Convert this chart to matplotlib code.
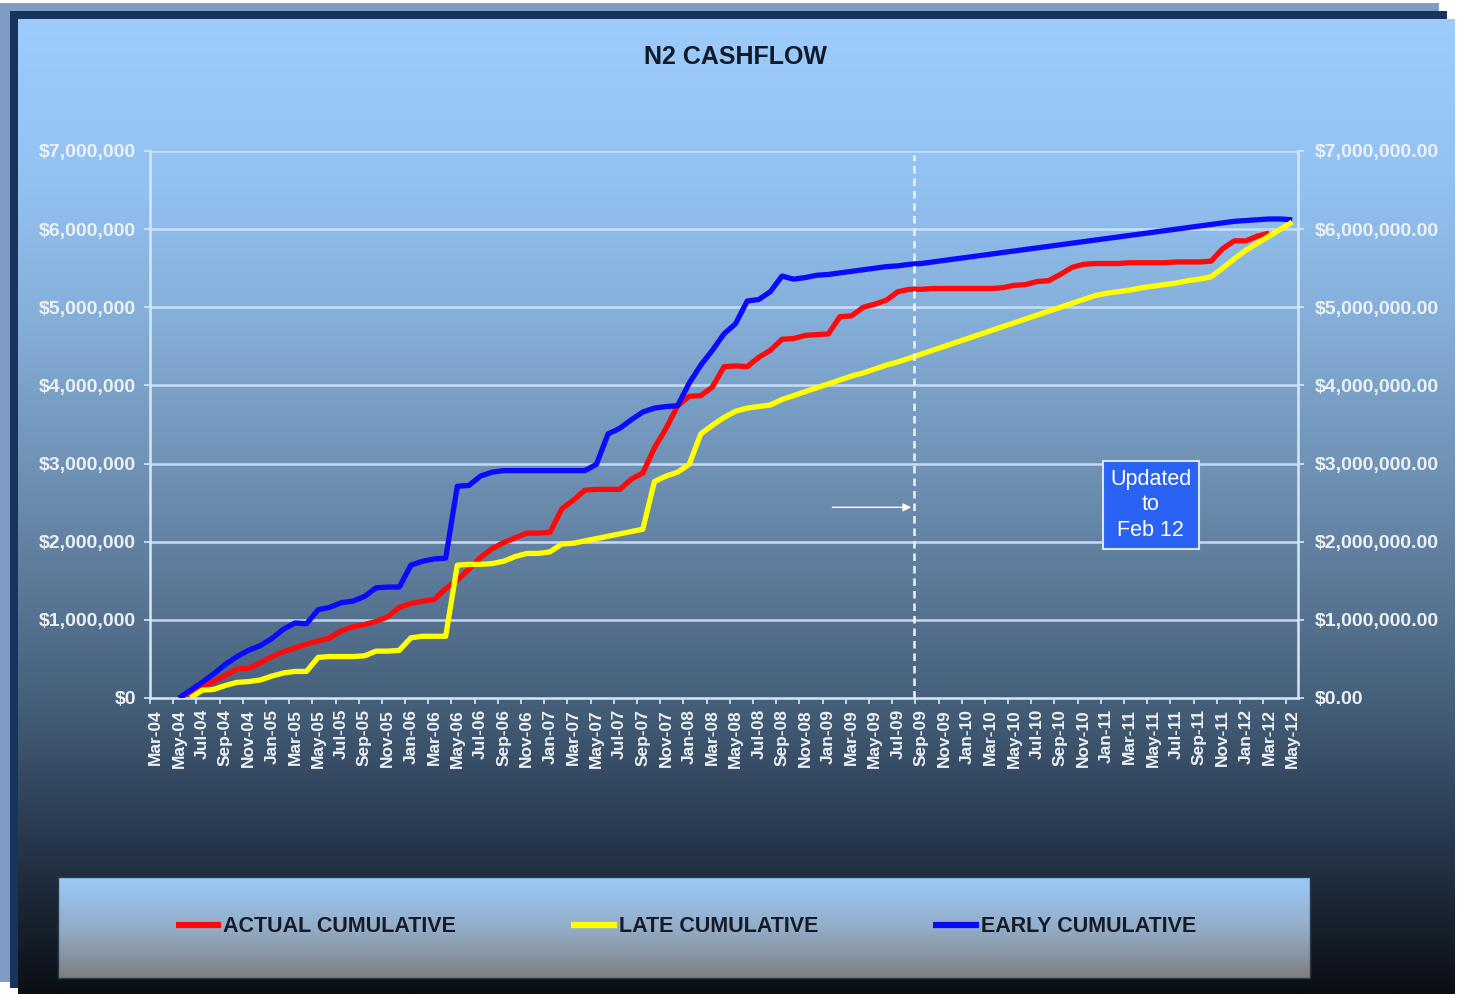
import numpy as np
import pandas as pd
import matplotlib
matplotlib.use("Agg")
import matplotlib.pyplot as plt
from matplotlib.colors import LinearSegmentedColormap
from matplotlib.patches import Rectangle
from matplotlib.lines import Line2D
from matplotlib.ticker import FuncFormatter, FixedLocator

plt.rcParams['font.family'] = ['Liberation Sans', 'DejaVu Sans']

# ---------------- data ----------------
months = list(pd.date_range('2004-03-01', periods=99, freq='MS').strftime('%b-%y'))
nan = np.nan

# values in $ millions, one per month (Mar-04 .. May-12)
actual_cum = [nan, nan, 0.00, 0.08, 0.14, 0.21, 0.29, 0.37, 0.38, 0.45,
              0.53, 0.59, 0.64, 0.69, 0.73, 0.77, 0.86, 0.91, 0.94, 0.98,
              1.04, 1.16, 1.21, 1.24, 1.26, 1.40, 1.51, 1.65, 1.80, 1.91,
              1.99, 2.05, 2.11, 2.11, 2.12, 2.42, 2.53, 2.66, 2.67, 2.67,
              2.67, 2.80, 2.88, 3.20, 3.45, 3.74, 3.86, 3.87, 3.98, 4.24,
              4.25, 4.24, 4.36, 4.45, 4.59, 4.60, 4.64, 4.65, 4.66, 4.88,
              4.89, 5.00, 5.04, 5.09, 5.20, 5.23, 5.23, 5.24, 5.24, 5.24,
              5.24, 5.24, 5.24, 5.25, 5.28, 5.29, 5.33, 5.34, 5.42, 5.51,
              5.55, 5.56, 5.56, 5.56, 5.57, 5.57, 5.57, 5.57, 5.58, 5.58,
              5.58, 5.59, 5.75, 5.85, 5.85, 5.91, 5.95, nan, nan]

late_cum = [nan, nan, nan, 0.00, 0.10, 0.11, 0.16, 0.20, 0.21, 0.23,
            0.28, 0.32, 0.34, 0.34, 0.52, 0.53, 0.53, 0.53, 0.54, 0.60,
            0.60, 0.61, 0.77, 0.79, 0.79, 0.79, 1.70, 1.71, 1.71, 1.72,
            1.75, 1.81, 1.85, 1.85, 1.87, 1.97, 1.98, 2.01, 2.04, 2.07,
            2.10, 2.13, 2.16, 2.77, 2.84, 2.89, 2.99, 3.38, 3.49, 3.59,
            3.67, 3.71, 3.73, 3.75, 3.82, 3.87, 3.92, 3.97, 4.02, 4.07,
            4.12, 4.16, 4.21, 4.26, 4.30, 4.35, 4.40, 4.45, 4.50, 4.55,
            4.60, 4.65, 4.70, 4.75, 4.80, 4.85, 4.90, 4.95, 5.00, 5.05,
            5.10, 5.15, 5.18, 5.20, 5.22, 5.25, 5.27, 5.29, 5.31, 5.34,
            5.36, 5.39, 5.50, 5.62, 5.73, 5.82, 5.91, 6.00, 6.09]

early_cum = [nan, nan, 0.00, 0.10, 0.20, 0.31, 0.43, 0.53, 0.61, 0.67,
             0.76, 0.88, 0.96, 0.95, 1.13, 1.16, 1.22, 1.24, 1.30, 1.41,
             1.42, 1.42, 1.70, 1.75, 1.78, 1.79, 2.71, 2.72, 2.84, 2.89,
             2.91, 2.91, 2.91, 2.91, 2.91, 2.91, 2.91, 2.91, 2.99, 3.38,
             3.45, 3.56, 3.66, 3.71, 3.73, 3.74, 4.03, 4.26, 4.45, 4.66,
             4.79, 5.08, 5.10, 5.20, 5.40, 5.36, 5.38, 5.41, 5.42, 5.44,
             5.46, 5.48, 5.50, 5.52, 5.53, 5.55, 5.56, 5.58, 5.60, 5.62,
             5.64, 5.66, 5.68, 5.70, 5.72, 5.74, 5.76, 5.78, 5.80, 5.82,
             5.84, 5.86, 5.88, 5.90, 5.92, 5.94, 5.96, 5.98, 6.00, 6.02,
             6.04, 6.06, 6.08, 6.10, 6.11, 6.12, 6.13, 6.13, 6.12]

series_names = ['ACTUAL CUMULATIVE', 'LATE CUMULATIVE', 'EARLY CUMULATIVE']
series_colors = ['#ff0a0a', '#ffff00', '#0a0aff']
y_ticks = [0, 1e6, 2e6, 3e6, 4e6, 5e6, 6e6, 7e6]
update_month = 65.35          # position of the "update" marker (mid Aug-09)
arrow_value = 2.44e6
note_text = 'Updated\nto\nFeb 12'
note_pos = (85.8, 2.47e6)
title = 'N2 CASHFLOW'

# ---------------- figure ----------------
W, H = 1462, 994
fig = plt.figure(figsize=(W / 100, H / 100), dpi=100)
fig.patch.set_facecolor('white')

bg = fig.add_axes([0, 0, 1, 1], zorder=0)
bg.axis('off')

bg.add_patch(Rectangle((0, 3), 1439, 979, color='#7f9cc2', lw=0, zorder=1))
bg.add_patch(Rectangle((10, 11), 1437, 977, color='#17345c', lw=0, zorder=2))

panel_cmap = LinearSegmentedColormap.from_list('panel', [
    (0.00, '#9dccfc'), (0.15, '#94c3f3'), (0.30, '#86b0da'),
    (0.50, '#6a8aac'), (0.70, '#46607b'), (0.85, '#26364a'),
    (1.00, '#0b0f15')])
grad = np.linspace(0, 1, 512).reshape(-1, 1)
bg.imshow(grad, cmap=panel_cmap, aspect='auto', extent=(18, 1455, 994, 19),
          interpolation='bicubic', zorder=3)

legend_cmap = LinearSegmentedColormap.from_list('leg', [
    (0.0, '#9ccaf9'), (0.5, '#93adc8'), (1.0, '#7f7f80')])
bg.imshow(grad, cmap=legend_cmap, aspect='auto', extent=(58, 1310, 978, 877),
          interpolation='bicubic', zorder=4)
bg.add_patch(Rectangle((58, 877), 1252, 101, fill=False, ec='#2b3a4c', lw=1,
                       zorder=5))

bg.text(736, 57, title, ha='center', va='center', fontsize=18,
        fontweight='bold', color='#111a2a', zorder=6)
bg.set_xlim(0, W)
bg.set_ylim(H, 0)

# ---------------- main chart ----------------
ax = fig.add_axes([150 / W, 1 - 698 / H, (1298 - 150) / W, (698 - 151) / H],
                  zorder=2)
ax.set_facecolor('none')
x = np.arange(len(months))
light = '#d6e8fb'
lab_col = '#edf2f8'

zorders = [3, 5, 4]
for vals, name, col, z in zip([actual_cum, late_cum, early_cum],
                              series_names, series_colors, zorders):
    ax.plot(x, np.array(vals) * 1e6, color=col, lw=3.8, label=name,
            zorder=z, solid_capstyle='butt', solid_joinstyle='round')

ax.set_xlim(-0.5, len(months) - 0.5)
ax.set_ylim(0, 7e6)

for yv in y_ticks[1:]:
    ax.axhline(yv, color='#cfe4fb', lw=1.8, alpha=0.9, zorder=1)

ax.spines['top'].set_visible(False)
for s in ['left', 'right', 'bottom']:
    ax.spines[s].set_color(light)
    ax.spines[s].set_linewidth(1.8)

ax.xaxis.set_major_locator(FixedLocator(np.arange(-0.5, len(months), 2)))
ax.xaxis.set_minor_locator(FixedLocator(x[::2]))
ax.xaxis.set_major_formatter(FuncFormatter(lambda v, p: ''))
ax.set_xticklabels([months[i] for i in x[::2]], minor=True)
ax.tick_params(axis='x', which='major', length=4, width=1.2, color=light,
               direction='out')
ax.tick_params(axis='x', which='minor', length=0, pad=8, labelsize=12.5,
               labelcolor=lab_col, labelrotation=90)
for lab in ax.get_xticklabels(minor=True):
    lab.set_fontweight('bold')

ax.set_yticks(y_ticks)
ax.yaxis.set_major_formatter(FuncFormatter(lambda v, p: f'${v:,.0f}'))
ax.tick_params(axis='y', length=4, width=1.2, color=light, pad=6,
               labelsize=14, labelcolor=lab_col)
for lab in ax.get_yticklabels():
    lab.set_fontweight('bold')

ax2 = ax.twinx()
ax2.set_ylim(0, 7e6)
ax2.set_yticks(y_ticks)
ax2.yaxis.set_major_formatter(FuncFormatter(lambda v, p: f'${v:,.2f}'))
ax2.tick_params(axis='y', length=4, width=1.2, color=light, pad=8,
                labelsize=14, labelcolor=lab_col)
for lab in ax2.get_yticklabels():
    lab.set_fontweight('bold')
for s in ax2.spines.values():
    s.set_visible(False)

# update marker
ax.plot([update_month, update_month], [0, 6.95e6], color='#eef4ff', lw=1.8,
        ls=(0, (3, 2)), zorder=6)
ax.annotate('', xy=(update_month - 0.2, arrow_value),
            xytext=(update_month - 7.0, arrow_value),
            arrowprops=dict(arrowstyle='-|>', color='white', lw=1.0,
                            mutation_scale=12, shrinkA=0, shrinkB=0),
            zorder=6)
ax.text(note_pos[0], note_pos[1], note_text, ha='center', va='center',
        fontsize=15.5, color='white', linespacing=1.3, zorder=7,
        bbox=dict(boxstyle='square,pad=0.35', fc='#2a63f3', ec='#d6e4f8',
                  lw=1.5))

# ---------------- legend ----------------
handles = [Line2D([0], [0], color=c, lw=4.5, solid_capstyle='butt')
           for c in series_colors]
leg = fig.legend(handles, series_names, loc='center',
                 bbox_to_anchor=(686 / W, 1 - 927 / H), ncol=3, frameon=False,
                 prop=dict(size=15.5, weight='bold'), handlelength=2.1,
                 handletextpad=0.1, columnspacing=5.35)
leg.set_zorder(10)
for t in leg.get_texts():
    t.set_color('#151c28')

fig.savefig('out.png', dpi=100)
